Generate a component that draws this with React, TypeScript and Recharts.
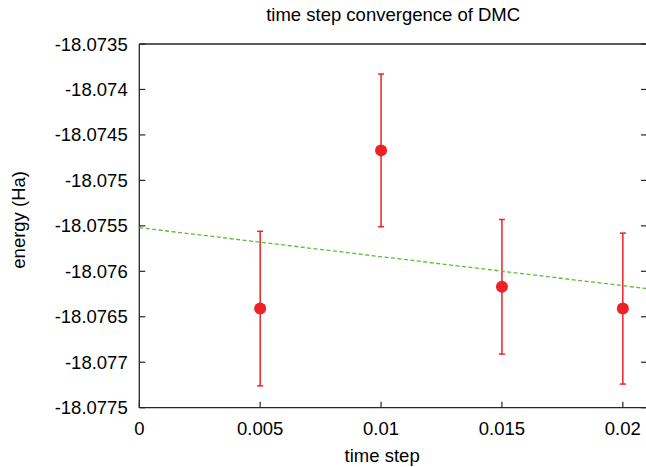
import React from "react";
import { ScatterChart, Scatter, XAxis, YAxis, ErrorBar } from "recharts";

// DMC energies per time step (Ha), with error bars
const timeSteps = [0.005, 0.01, 0.015, 0.02];
const energies = [-18.07641, -18.07467, -18.07617, -18.07641];
const errors = [0.00085, 0.00084, 0.00074, 0.00083];

// linear fit, read at the two ends of the plot
const fitX = [0, 0.021];
const fitY = [-18.07552, -18.07619];

const xTicks = [0, 0.005, 0.01, 0.015, 0.02];
const yTicks = [
  -18.0775, -18.077, -18.0765, -18.076, -18.0755, -18.075, -18.0745, -18.074, -18.0735,
];

const points = timeSteps.map((x, i) => ({ x, y: energies[i], err: errors[i] }));
const fitLine = fitX.map((x, i) => ({ x, y: fitY[i] }));

const RED = "#ec2227";
const GREEN = "#62b933";
const AXIS = "#262626";
const FONT = "'Liberation Sans', Arial, Helvetica, sans-serif";
const FS = 18.5;

const fmtY = (v: number) => String(parseFloat(v.toFixed(4)));

const Title = ({ viewBox }: any) => (
  <text
    x={viewBox.x + viewBox.width / 2}
    y={21}
    textAnchor="middle"
    fontSize={FS}
    fill="#000"
    fontFamily={FONT}
  >
    time step convergence of DMC
  </text>
);

const XLabel = ({ viewBox }: any) => (
  <text
    x={viewBox.x + viewBox.width / 2 - 11}
    y={viewBox.y + viewBox.height - 5}
    textAnchor="middle"
    fontSize={FS}
    fill="#000"
    fontFamily={FONT}
  >
    time step
  </text>
);

const YLabel = ({ viewBox }: any) => {
  const cx = 18.5;
  const cy = viewBox.y + viewBox.height / 2 - 6;
  return (
    <text
      x={cx}
      y={cy}
      transform={`rotate(-90 ${cx} ${cy})`}
      textAnchor="middle"
      dominantBaseline="central"
      fontSize={FS}
      fill="#000"
      fontFamily={FONT}
    >
      energy (Ha)
    </text>
  );
};

export default function App() {
  return (
    <div
      style={{
        position: "fixed",
        left: 0,
        top: 0,
        width: 646,
        height: 467,
        overflow: "hidden",
        background: "#fff",
        fontFamily: FONT,
      }}
    >
      <ScatterChart
        width={660}
        height={467}
        margin={{ top: 43, right: 12, bottom: 0, left: 0 }}
      >
        <XAxis
          dataKey="x"
          type="number"
          domain={[0, 0.021]}
          ticks={xTicks}
          allowDataOverflow
          height={59.3}
          tickSize={-6}
          tickMargin={20}
          tickFormatter={(v: number) => String(v)}
          tick={{ fill: "#000", fontSize: FS, fontFamily: FONT }}
          axisLine={{ stroke: AXIS, strokeWidth: 1.3 }}
          tickLine={{ stroke: AXIS, strokeWidth: 1.2 }}
          label={{ content: XLabel }}
        />
        <XAxis
          xAxisId="top"
          orientation="top"
          type="number"
          domain={[0, 0.021]}
          ticks={xTicks}
          allowDataOverflow
          height={1}
          tickSize={-6}
          tickFormatter={() => ""}
          axisLine={{ stroke: AXIS, strokeWidth: 1.3 }}
          tickLine={{ stroke: AXIS, strokeWidth: 1.2 }}
          label={{ content: Title }}
        />
        <YAxis
          dataKey="y"
          type="number"
          domain={[-18.0775, -18.0735]}
          ticks={yTicks}
          allowDataOverflow
          width={139.3}
          tickSize={-6}
          tickMargin={17.6}
          tickFormatter={fmtY}
          tick={{ fill: "#000", fontSize: FS, fontFamily: FONT }}
          axisLine={{ stroke: AXIS, strokeWidth: 1.3 }}
          tickLine={{ stroke: AXIS, strokeWidth: 1.2 }}
          label={{ content: YLabel }}
        />
        <YAxis
          yAxisId="right"
          orientation="right"
          type="number"
          domain={[-18.0775, -18.0735]}
          ticks={yTicks}
          allowDataOverflow
          width={1}
          tickSize={-6}
          tickFormatter={() => ""}
          axisLine={{ stroke: AXIS, strokeWidth: 1.3 }}
          tickLine={{ stroke: AXIS, strokeWidth: 1.2 }}
        />
        <Scatter
          data={points}
          isAnimationActive={false}
          shape={(p: any) => <circle cx={p.cx} cy={p.cy} r={6} fill={RED} />}
        >
          <ErrorBar
            dataKey="err"
            direction="y"
            width={3}
            stroke={RED}
            strokeWidth={1.5}
            isAnimationActive={false}
          />
        </Scatter>
        <Scatter
          data={fitLine}
          isAnimationActive={false}
          shape={() => <g />}
          line={{ stroke: GREEN, strokeWidth: 1.3, strokeDasharray: "4 2.5" }}
        />
      </ScatterChart>
    </div>
  );
}
